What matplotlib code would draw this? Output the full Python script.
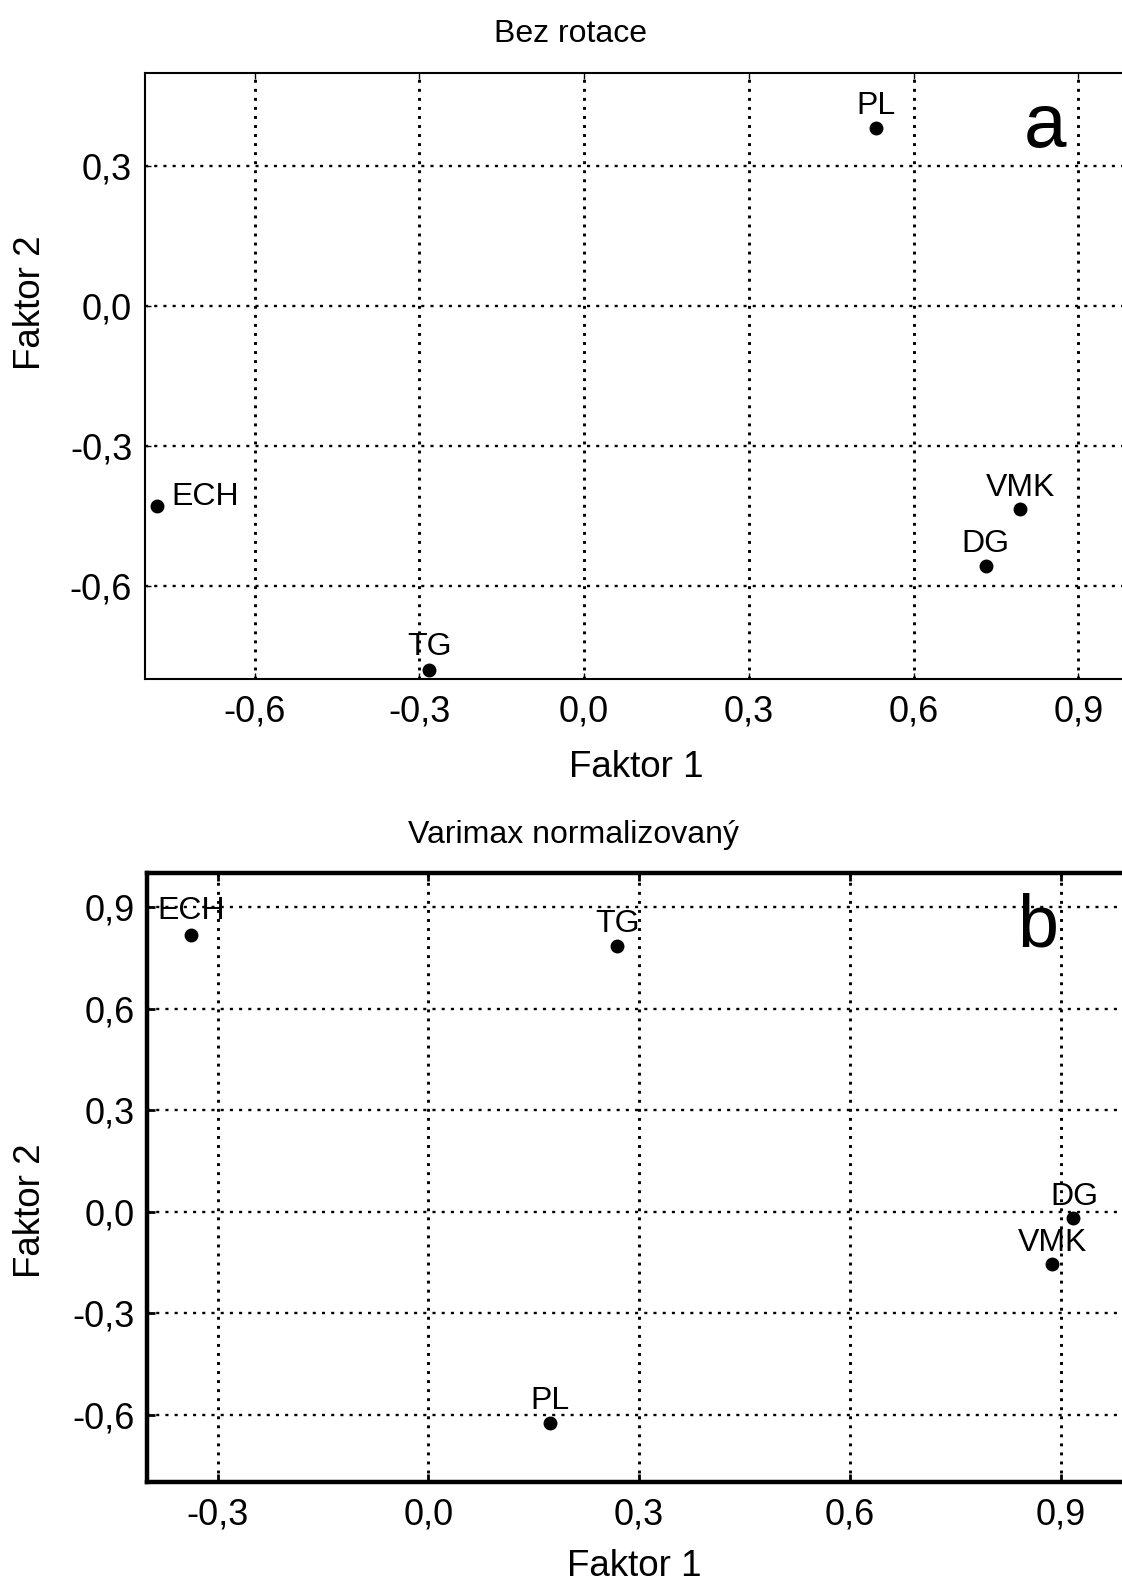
import matplotlib
matplotlib.use("Agg")
import matplotlib.pyplot as plt
from matplotlib.ticker import FuncFormatter, FixedLocator

plt.rcParams['font.family'] = ['Liberation Sans', 'DejaVu Sans']

# ---------------- data ----------------
labels_a = ["ECH", "TG", "PL", "VMK", "DG"]
f1_a = [-0.777, -0.282, 0.531, 0.794, 0.731]
f2_a = [-0.429, -0.781, 0.381, -0.436, -0.557]

labels_b = ["ECH", "TG", "PL", "VMK", "DG"]
f1_b = [-0.338, 0.269, 0.173, 0.887, 0.917]
f2_b = [0.819, 0.785, -0.624, -0.156, -0.020]

xticks_a = [-0.6, -0.3, 0.0, 0.3, 0.6, 0.9]
yticks_a = [-0.6, -0.3, 0.0, 0.3]
xticks_b = [-0.3, 0.0, 0.3, 0.6, 0.9]
yticks_b = [-0.6, -0.3, 0.0, 0.3, 0.6, 0.9]

title_a = "Bez rotace"
title_b = "Varimax normalizovaný"
xlabel = "Faktor 1"
ylabel = "Faktor 2"

# label placement styles (offset in points, alignment)
lab_style_a = [((10, 1), 'left'), ((0, 11), 'center'), ((0, 10), 'center'),
               ((0, 10), 'center'), ((0, 10), 'center')]
lab_style_b = [((0, 11), 'center'), ((0, 10), 'center'), ((0, 10), 'center'),
               ((1, 10), 'center'), ((1, 10), 'center')]

W, H = 1122, 1585
fig = plt.figure(figsize=(W / 100, H / 100), dpi=100)
fig.patch.set_facecolor('white')


def fx(px):
    return px / W


def fy(py):
    return 1 - py / H


fmt = FuncFormatter(lambda v, p: f"{v:.1f}".replace('.', ','))


def setup(ax, x, y, labs, styles, xt, yt, xlim, ylim, spine_lw, tick_len, tick_w):
    ax.set_xlim(*xlim)
    ax.set_ylim(*ylim)
    ax.xaxis.set_major_locator(FixedLocator(xt))
    ax.yaxis.set_major_locator(FixedLocator(yt))
    ax.xaxis.set_major_formatter(fmt)
    ax.yaxis.set_major_formatter(fmt)
    ax.xaxis.grid(True, color='black', linestyle=(0, (1, 2.1)), linewidth=2.1)
    ax.yaxis.grid(True, color='black', linestyle=(0, (1.3, 2.6)), linewidth=1.7)
    ax.set_axisbelow(True)
    for s in ax.spines.values():
        s.set_linewidth(spine_lw)
        s.set_color('black')
    ax.tick_params(axis='both', direction='in', length=tick_len, width=tick_w,
                   labelsize=26, top=True, right=True, colors='black')
    ax.tick_params(axis='x', pad=11)
    ax.tick_params(axis='y', pad=9)
    ax.plot(x, y, 'o', color='black', markersize=9, linestyle='none', zorder=5)
    for xi, yi, lab, (off, ha) in zip(x, y, labs, styles):
        ax.annotate(lab, (xi, yi), xytext=off, textcoords='offset points',
                    ha=ha, va='baseline', fontsize=23, color='black', zorder=6)


# ---------- panel a ----------
ax_a = fig.add_axes([fx(144.7), fy(679.3), fx(1133.4 - 144.7), (679.3 - 72.7) / H])
setup(ax_a, f1_a, f2_a, labels_a, lab_style_a, xticks_a, yticks_a,
      (-0.8, 1.0), (-0.8, 0.5), 1.5, 4, 1.0)

# ---------- panel b ----------
ax_b = fig.add_axes([fx(147.3), fy(1482.3), fx(1130.9 - 147.3), (1482.3 - 873.3) / H])
setup(ax_b, f1_b, f2_b, labels_b, lab_style_b, xticks_b, yticks_b,
      (-0.4, 1.0), (-0.8, 1.0), 3.2, 6, 2.0)

# titles, axis labels, panel letters
fig.text(fx(571), fy(42), title_a, ha='center', va='baseline', fontsize=23)
fig.text(fx(574), fy(843), title_b, ha='center', va='baseline', fontsize=23)

fig.text(fx(636.7), fy(776.7), xlabel, ha='center', va='baseline', fontsize=26.5)
fig.text(fx(634), fy(1576), xlabel, ha='center', va='baseline', fontsize=26.5)

fig.text(fx(31), fy(303), ylabel, ha='center', va='center', rotation=90, fontsize=26.5)
fig.text(fx(31), fy(1211), ylabel, ha='center', va='center', rotation=90, fontsize=26.5)

fig.text(fx(1066), fy(146.7), "a", ha='right', va='baseline', fontsize=55)
fig.text(fx(1058), fy(946.7), "b", ha='right', va='baseline', fontsize=53)

fig.savefig("out.png", dpi=100)
